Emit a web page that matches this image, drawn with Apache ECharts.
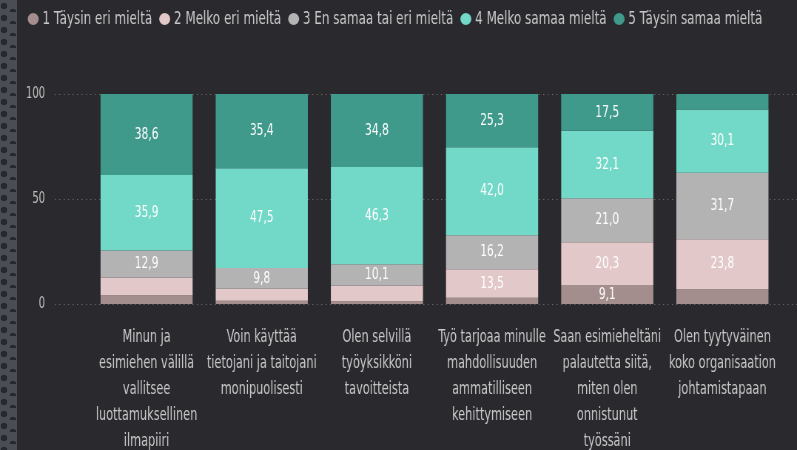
<!DOCTYPE html>
<html>
<head>
<meta charset="utf-8">
<script src="https://cdn.jsdelivr.net/npm/echarts@6/dist/echarts.min.js"></script>
<style>
  html, body { margin: 0; padding: 0; background: #2a292e; overflow: hidden; }
  #strip {
    position: absolute; left: 0; top: 0; width: 17px; height: 450px;
    background-color: #4a4e54;
    background-image:
      radial-gradient(circle at 4px 6px, #26292d 3px, transparent 3.6px),
      radial-gradient(circle at 13px 12px, #26292d 3px, transparent 3.6px);
    background-size: 17px 12px;
  }
  /* the source uses a condensed face; squeeze the canvas horizontally to get it */
  #chart {
    position: absolute; left: 0; top: 0; width: 1077px; height: 450px;
    transform: scaleX(0.74); transform-origin: 0 0;
  }
</style>
</head>
<body>
<div id="strip"></div>
<div id="chart"></div>
<script>
const categories = [
  'Minun ja\nesimiehen välillä\nvallitsee\nluottamuksellinen\nilmapiiri',
  'Voin käyttää\ntietojani ja taitojani\nmonipuolisesti',
  'Olen selvillä\ntyöyksikköni\ntavoitteista',
  'Työ tarjoaa minulle\nmahdollisuuden\nammatilliseen\nkehittymiseen',
  'Saan esimieheltäni\npalautetta siitä,\nmiten olen\nonnistunut\ntyössäni',
  'Olen tyytyväinen\nkoko organisaation\njohtamistapaan'
];
const seriesNames = [
  '1 Täysin eri mieltä',
  '2 Melko eri mieltä',
  '3 En samaa tai eri mieltä',
  '4 Melko samaa mieltä',
  '5 Täysin samaa mieltä'
];
const taysinEri = [4.2, 1.5, 1.3, 3.0, 9.1, 7.0];
const melkoEri = [8.4, 5.8, 7.5, 13.5, 20.3, 23.8];
const enSamaa = [12.9, 9.8, 10.1, 16.2, 21.0, 31.7];
const melkoSamaa = [35.9, 47.5, 46.3, 42.0, 32.1, 30.1];
const taysinSamaa = [38.6, 35.4, 34.8, 25.3, 17.5, 7.4];
const yTicks = [0, 50, 100];

const S = 0.74; // horizontal squeeze, same as the css
const px = v => v / S;

const colors = ['#a48e8d', '#e3c8c9', '#b3b3b3', '#72d8c7', '#3f9a8c'];
const font = '"DejaVu Sans Condensed", "DejaVu Sans", sans-serif';
const values = [taysinEri, melkoEri, enSamaa, melkoSamaa, taysinSamaa];

const chart = echarts.init(document.getElementById('chart'));

chart.setOption({
  backgroundColor: 'transparent',
  textStyle: { fontFamily: font },
  legend: {
    data: seriesNames,
    left: px(24),
    top: 5,
    icon: 'path://M50,0A50,50,0,1,1,50,100A50,50,0,1,1,50,0Z',
    symbolKeepAspect: false,
    itemWidth: px(11),
    itemHeight: 12,
    itemGap: px(7),
    textStyle: { color: '#c8c8c8', fontSize: 18, fontFamily: font }
  },
  grid: [
    { left: px(89), right: px(17), top: 94, bottom: 146, outerBoundsMode: 'none' },
    { left: px(55), right: 0, top: 94, bottom: 146, outerBoundsMode: 'none' }
  ],
  xAxis: [
    {
      type: 'category',
      gridIndex: 0,
      data: categories,
      axisLine: { show: false },
      axisTick: { show: false },
      axisLabel: {
        color: '#c8c8c8',
        fontSize: 17,
        lineHeight: 26,
        margin: 21,
        interval: 0,
        fontFamily: font
      }
    },
    { type: 'value', gridIndex: 1, show: false, min: 0, max: 1 }
  ],
  yAxis: [
    { type: 'value', gridIndex: 0, min: 0, max: 100, show: false },
    {
      type: 'value',
      gridIndex: 1,
      min: 0,
      max: 100,
      interval: 50,
      axisLine: { show: false },
      axisTick: { show: false },
      axisLabel: {
        color: '#bdbdbd',
        fontSize: 15,
        margin: px(10),
        fontFamily: font,
        formatter: v => yTicks.indexOf(v) >= 0 ? String(v) : ''
      },
      splitLine: { lineStyle: { color: '#8a8a8a', type: [1, 5], width: 1 } }
    }
  ],
  series: seriesNames.map((name, i) => ({
    name: name,
    type: 'bar',
    stack: 'total',
    xAxisIndex: 0,
    yAxisIndex: 0,
    barCategoryGap: '20%',
    data: values[i],
    itemStyle: { color: colors[i] },
    label: {
      show: true,
      position: 'inside',
      color: '#ffffff',
      fontSize: 16,
      fontFamily: font,
      formatter: p => p.value >= 9 ? p.value.toFixed(1).replace('.', ',') : ''
    }
  }))
});
</script>
</body>
</html>
